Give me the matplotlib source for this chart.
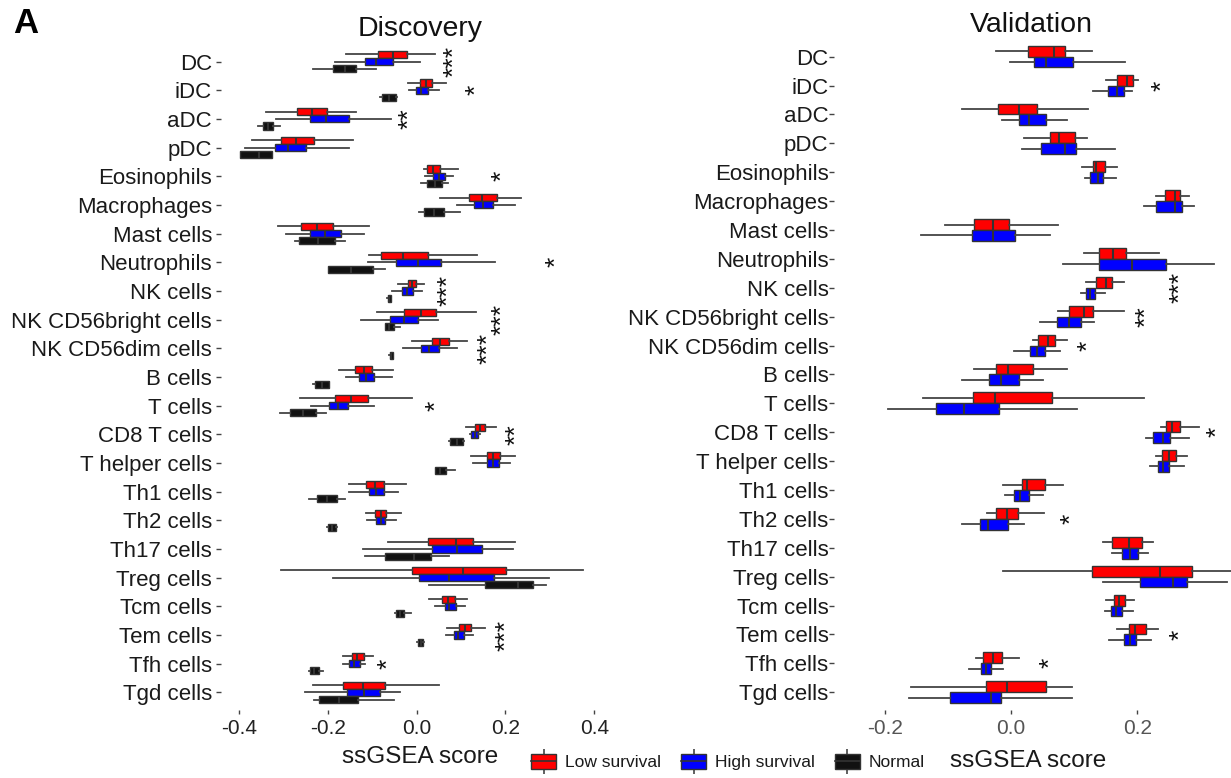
import matplotlib
matplotlib.use("Agg")
import matplotlib.pyplot as plt
from matplotlib.patches import Patch
from matplotlib.lines import Line2D

plt.rcParams['font.family'] = ['Liberation Sans', 'DejaVu Sans']
plt.rcParams['axes.unicode_minus'] = False

# клеточные популяции (сверху вниз)
cells = ['DC', 'iDC', 'aDC', 'pDC', 'Eosinophils', 'Macrophages', 'Mast cells',
         'Neutrophils', 'NK cells', 'NK CD56bright cells', 'NK CD56dim cells',
         'B cells', 'T cells', 'CD8 T cells', 'T helper cells', 'Th1 cells',
         'Th2 cells', 'Th17 cells', 'Treg cells', 'Tcm cells', 'Tem cells',
         'Tfh cells', 'Tgd cells']

groups = ['Low survival', 'High survival', 'Normal']

# [нижний ус, Q1, медиана, Q3, верхний ус]
disc_low = [
    [-0.159, -0.086, -0.053, -0.022, 0.041], [-0.019, 0.007, 0.022, 0.035, 0.067],
    [-0.339, -0.269, -0.235, -0.201, -0.136], [-0.371, -0.304, -0.271, -0.230, -0.144],
    [0.016, 0.024, 0.038, 0.052, 0.093], [0.053, 0.117, 0.148, 0.180, 0.236],
    [-0.311, -0.260, -0.224, -0.187, -0.106], [-0.108, -0.080, -0.031, 0.026, 0.135],
    [-0.041, -0.020, -0.011, -0.001, 0.016], [-0.089, -0.029, 0.009, 0.044, 0.133],
    [-0.011, 0.035, 0.053, 0.073, 0.113], [-0.174, -0.138, -0.119, -0.101, -0.053],
    [-0.262, -0.183, -0.147, -0.110, -0.011], [0.112, 0.131, 0.142, 0.155, 0.178],
    [0.123, 0.159, 0.172, 0.187, 0.221], [-0.153, -0.113, -0.093, -0.074, -0.023],
    [-0.113, -0.093, -0.081, -0.068, -0.035], [-0.065, 0.026, 0.088, 0.126, 0.221],
    [-0.304, -0.011, 0.104, 0.202, 0.375], [0.029, 0.057, 0.071, 0.086, 0.114],
    [0.068, 0.095, 0.108, 0.123, 0.153], [-0.166, -0.146, -0.134, -0.119, -0.098],
    [-0.234, -0.165, -0.121, -0.072, 0.050]]

disc_high = [
    [-0.183, -0.116, -0.091, -0.052, 0.007], [-0.018, -0.002, 0.011, 0.025, 0.050],
    [-0.316, -0.239, -0.204, -0.151, -0.057], [-0.386, -0.318, -0.290, -0.249, -0.151],
    [0.020, 0.037, 0.050, 0.065, 0.082], [0.092, 0.129, 0.150, 0.172, 0.221],
    [-0.294, -0.239, -0.205, -0.170, -0.119], [-0.110, -0.046, 0.003, 0.055, 0.176],
    [-0.056, -0.032, -0.022, -0.008, 0.013], [-0.126, -0.059, -0.029, 0.003, 0.048],
    [-0.031, 0.011, 0.029, 0.050, 0.091], [-0.159, -0.130, -0.113, -0.095, -0.056],
    [-0.237, -0.198, -0.177, -0.155, -0.096], [0.120, 0.123, 0.131, 0.138, 0.142],
    [0.126, 0.159, 0.172, 0.185, 0.210], [-0.153, -0.108, -0.091, -0.074, -0.042],
    [-0.112, -0.091, -0.081, -0.071, -0.046], [-0.121, 0.035, 0.090, 0.147, 0.216],
    [-0.187, 0.005, 0.074, 0.174, 0.298], [0.041, 0.063, 0.074, 0.088, 0.110],
    [0.067, 0.084, 0.093, 0.107, 0.126], [-0.166, -0.153, -0.141, -0.127, -0.115],
    [-0.250, -0.157, -0.119, -0.082, -0.038]]

disc_normal = [
    [-0.234, -0.187, -0.161, -0.136, -0.092], [-0.083, -0.077, -0.062, -0.047, -0.044],
    [-0.356, -0.345, -0.334, -0.322, -0.307], [-0.398, -0.397, -0.354, -0.326, -0.325],
    [0.011, 0.024, 0.041, 0.057, 0.071], [0.005, 0.017, 0.039, 0.061, 0.098],
    [-0.273, -0.264, -0.222, -0.184, -0.160], [-0.200, -0.199, -0.147, -0.098, -0.072],
    [-0.066, -0.065, -0.062, -0.058, -0.057], [-0.072, -0.071, -0.061, -0.050, -0.038],
    [-0.061, -0.060, -0.057, -0.053, -0.052], [-0.233, -0.228, -0.213, -0.198, -0.197],
    [-0.307, -0.285, -0.256, -0.226, -0.204], [0.074, 0.076, 0.090, 0.104, 0.106],
    [0.041, 0.042, 0.052, 0.067, 0.087], [-0.241, -0.225, -0.202, -0.180, -0.161],
    [-0.201, -0.200, -0.190, -0.181, -0.180], [-0.117, -0.071, -0.005, 0.032, 0.073],
    [0.029, 0.155, 0.229, 0.261, 0.291], [-0.048, -0.047, -0.038, -0.029, -0.012],
    [0.002, 0.003, 0.009, 0.015, 0.016], [-0.241, -0.240, -0.230, -0.219, -0.210],
    [-0.230, -0.220, -0.174, -0.131, -0.050]]

val_low = [
    [-0.024, 0.027, 0.068, 0.085, 0.128], [0.150, 0.168, 0.184, 0.193, 0.201],
    [-0.078, -0.021, 0.013, 0.041, 0.122], [0.021, 0.062, 0.076, 0.102, 0.121],
    [0.113, 0.129, 0.134, 0.149, 0.167], [0.229, 0.243, 0.259, 0.267, 0.281],
    [-0.104, -0.058, -0.029, -0.003, 0.074], [0.115, 0.139, 0.162, 0.182, 0.234],
    [0.119, 0.135, 0.150, 0.160, 0.179], [0.074, 0.091, 0.115, 0.130, 0.179],
    [0.034, 0.042, 0.058, 0.070, 0.088], [-0.058, -0.024, -0.005, 0.035, 0.089],
    [-0.140, -0.060, -0.026, 0.065, 0.211], [0.237, 0.245, 0.254, 0.268, 0.297],
    [0.229, 0.239, 0.250, 0.261, 0.279], [-0.013, 0.017, 0.025, 0.054, 0.083],
    [-0.038, -0.023, -0.007, 0.011, 0.052], [0.145, 0.159, 0.187, 0.208, 0.224],
    [-0.013, 0.128, 0.236, 0.287, 0.350], [0.151, 0.163, 0.171, 0.180, 0.195],
    [0.167, 0.187, 0.196, 0.213, 0.233], [-0.056, -0.045, -0.028, -0.014, 0.013],
    [-0.158, -0.040, -0.007, 0.055, 0.097]]

val_high = [
    [-0.002, 0.037, 0.055, 0.098, 0.181], [0.129, 0.153, 0.167, 0.179, 0.192],
    [-0.014, 0.012, 0.029, 0.055, 0.089], [0.018, 0.047, 0.085, 0.103, 0.164],
    [0.117, 0.125, 0.137, 0.146, 0.166], [0.211, 0.229, 0.259, 0.270, 0.289],
    [-0.143, -0.061, -0.029, 0.007, 0.062], [0.082, 0.139, 0.191, 0.245, 0.321],
    [0.110, 0.119, 0.125, 0.133, 0.149], [0.046, 0.073, 0.092, 0.111, 0.132],
    [0.004, 0.030, 0.041, 0.053, 0.077], [-0.078, -0.035, -0.016, 0.013, 0.051],
    [-0.195, -0.119, -0.075, -0.019, 0.105], [0.213, 0.225, 0.241, 0.252, 0.282],
    [0.220, 0.233, 0.241, 0.250, 0.274], [-0.009, 0.004, 0.015, 0.028, 0.051],
    [-0.077, -0.049, -0.036, -0.005, 0.021], [0.160, 0.175, 0.188, 0.201, 0.216],
    [0.145, 0.204, 0.257, 0.279, 0.341], [0.149, 0.158, 0.166, 0.175, 0.193],
    [0.155, 0.179, 0.188, 0.198, 0.221], [-0.066, -0.047, -0.040, -0.032, -0.013],
    [-0.161, -0.096, -0.031, -0.016, 0.097]]

# значимость: (индекс клетки, метка, x)
disc_sig = [(0, '***', 0.070), (1, '*', 0.118), (2, '**', -0.031), (4, '*', 0.178),
            (7, '*', 0.300), (8, '***', 0.056), (9, '***', 0.178), (10, '***', 0.146),
            (12, '*', 0.029), (13, '**', 0.210), (20, '***', 0.187), (21, '*', -0.080)]
val_sig = [(1, '*', 0.228), (8, '***', 0.257), (9, '**', 0.204), (10, '*', 0.112),
           (13, '*', 0.316), (16, '*', 0.085), (20, '*', 0.257), (21, '*', 0.051)]

colors = ['#FF0000', '#0000FF', '#111111']
edge = '#333333'


def draw_boxes(ax, data, color, offset, width):
    stats = [dict(whislo=d[0], q1=d[1], med=d[2], q3=d[3], whishi=d[4]) for d in data]
    pos = [i + offset for i in range(len(data))]
    ax.bxp(stats, positions=pos, widths=width, orientation='horizontal',
           patch_artist=True, showcaps=False, showfliers=False,
           boxprops=dict(facecolor=color, edgecolor=edge, linewidth=1.0),
           whiskerprops=dict(color='#444444', linewidth=1.3),
           medianprops=dict(color=edge, linewidth=1.5))


def style_axis(ax, xlim, ticks, tick_color, ypad):
    ax.set_xlim(*xlim)
    ax.set_ylim(len(cells) - 0.4, -0.6)
    ax.set_yticks(range(len(cells)))
    ax.set_yticklabels(cells, fontsize=16, color='#1a1a1a')
    ax.set_xticks(ticks)
    ax.set_xticklabels([f'{t:.1f}' for t in ticks], fontsize=15, color=tick_color)
    for s in ax.spines.values():
        s.set_visible(False)
    ax.tick_params(axis='y', length=3.5, width=1, color='#444444', pad=ypad)
    ax.tick_params(axis='x', length=3, width=1, color='#444444', pad=4)


def add_stars(ax, sig):
    for i, lab, x in sig:
        ax.annotate(lab, (x, i), xytext=(5, 0), textcoords='offset points',
                    rotation=90, ha='center', va='center', fontsize=19,
                    color='#111111', annotation_clip=False)


fig = plt.figure(figsize=(12.31, 7.78), dpi=100)

# Discovery
ax1 = fig.add_axes([0.1795, 0.088, 0.3084, 0.855])
for data, col, off in zip([disc_low, disc_high, disc_normal], colors, [-0.25, 0.0, 0.25]):
    draw_boxes(ax1, data, col, off, 0.25)
style_axis(ax1, (-0.44, 0.414), [-0.4, -0.2, 0.0, 0.2, 0.4], '#222222', 3)
add_stars(ax1, disc_sig)

# Validation
ax2 = fig.add_axes([0.6775, 0.088, 0.3225, 0.8615])
for data, col, off in zip([val_low, val_high], colors[:2], [-0.1875, 0.1875]):
    draw_boxes(ax2, data, col, off, 0.375)
style_axis(ax2, (-0.28, 0.348), [-0.2, 0.0, 0.2], '#555555', 0.5)
add_stars(ax2, val_sig)

# заголовки и подписи
fig.text(420 / 1231, 1 - 36 / 778, 'Discovery', fontsize=20.5, ha='center',
         va='baseline', color='#111111')
fig.text(1031 / 1231, 1 - 32 / 778, 'Validation', fontsize=20.5, ha='center',
         va='baseline', color='#111111')
fig.text(13 / 1231, 1 - 33 / 778, 'A', fontsize=25, fontweight='bold',
         ha='left', va='baseline')
fig.text(420 / 1231, 1 - 757 / 778, 'ssGSEA score', fontsize=17.5, ha='center',
         va='center', color='#1a1a1a')
fig.text(1028 / 1231, 1 - 761 / 778, 'ssGSEA score', fontsize=17.5, ha='center',
         va='center', color='#1a1a1a')

# легенда в стиле ggplot
handles = []
for col in colors:
    whisk = Line2D([], [], color='#444444', marker='|', markersize=18,
                   linestyle='none', markeredgewidth=1.2)
    box = Patch(facecolor=col, edgecolor=edge, linewidth=1.0)
    med = Line2D([], [], color=edge, linewidth=1.2)
    handles.append((whisk, box, med))
fig.legend(handles, groups, loc='center', bbox_to_anchor=(728 / 1231, 1 - 762 / 778),
           ncol=3, frameon=False, fontsize=12.5, handlelength=1.45, handleheight=1.0,
           handletextpad=0.5, columnspacing=1.15, labelcolor='#1a1a1a')

fig.savefig('out.png', dpi=100)
